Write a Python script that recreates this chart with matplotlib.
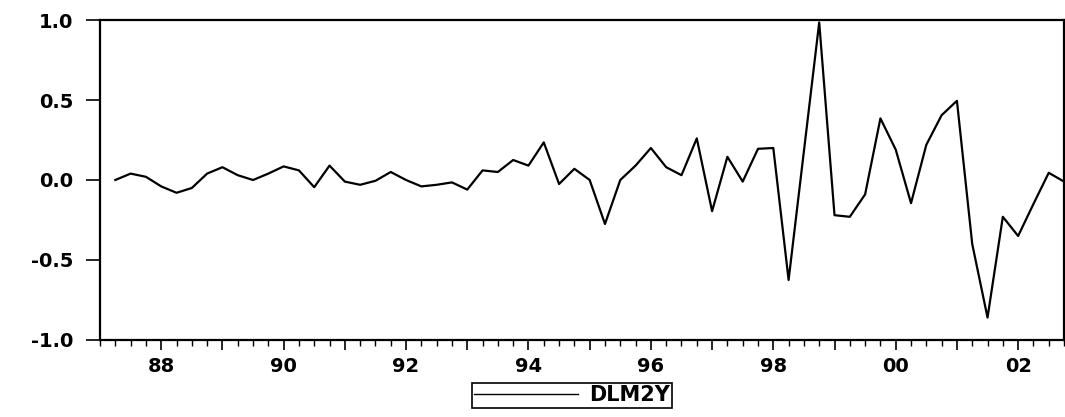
import matplotlib
matplotlib.use("Agg")
import matplotlib.pyplot as plt
import pandas as pd

# Quarterly series, 1987Q2 - 2002Q4
periods = pd.period_range("1987Q2", "2002Q4", freq="Q")
dlm2y = [
    0.00, 0.04, 0.02, -0.04, -0.08, -0.05, 0.04, 0.08, 0.03, 0.00,
    0.04, 0.085, 0.06, -0.045, 0.09, -0.01, -0.03, -0.005, 0.05, 0.00,
    -0.04, -0.03, -0.015, -0.06, 0.06, 0.05, 0.125, 0.09, 0.235, -0.025,
    0.07, 0.00, -0.275, 0.00, 0.09, 0.20, 0.08, 0.03, 0.26, -0.195,
    0.145, -0.01, 0.195, 0.20, -0.625, 0.18, 0.985, -0.22, -0.23, -0.09,
    0.385, 0.19, -0.145, 0.22, 0.405, 0.495, -0.40, -0.86, -0.23, -0.35,
    -0.15, 0.045, -0.01,
]
x = [p.year + (p.quarter - 1) / 4 for p in periods]

years = list(range(1988, 2003))
year_labels = [f"{y % 100:02d}" if y % 2 == 0 else "" for y in years]
quarters = [p.year + (p.quarter - 1) / 4 for p in pd.period_range("1987Q1", "2002Q4", freq="Q")]
y_ticks = [-1.0, -0.5, 0.0, 0.5, 1.0]

plt.rcParams["font.family"] = ["DejaVu Sans"]
plt.rcParams["font.weight"] = "bold"

fig = plt.figure(figsize=(10.65, 4.17), dpi=100)
ax = fig.add_axes([0.0939, 0.1847, 0.9052, 0.7673])

ax.plot(x, dlm2y, color="black", linewidth=1.6, label="DLM2Y")

ax.set_xlim(1987.0, 2002.75)
ax.set_ylim(-1.0, 1.0)
ax.set_yticks(y_ticks)
ax.set_yticklabels([f"{v:.1f}" for v in y_ticks])
ax.set_xticks(years)
ax.set_xticklabels(year_labels)
ax.set_xticks(quarters, minor=True)

for s in ax.spines.values():
    s.set_linewidth(1.6)
    s.set_color("black")

ax.tick_params(axis="y", direction="out", length=10, width=1.2, pad=9, labelsize=14)
ax.tick_params(axis="x", which="major", direction="out", length=7, width=1.2, pad=5, labelsize=14)
ax.tick_params(axis="x", which="minor", direction="out", length=4, width=1.0)

leg_line, = ax.plot([], [], color="black", linewidth=1.0)
leg = fig.legend([leg_line], ["DLM2Y"], loc="center", bbox_to_anchor=(0.537, 0.052),
                 frameon=True, fancybox=False, edgecolor="black", framealpha=1,
                 handlelength=5.0, borderpad=0.12, handletextpad=0.5,
                 prop={"size": 15, "weight": "bold"})
leg.get_frame().set_linewidth(1.2)

fig.savefig("out.png", dpi=100)
